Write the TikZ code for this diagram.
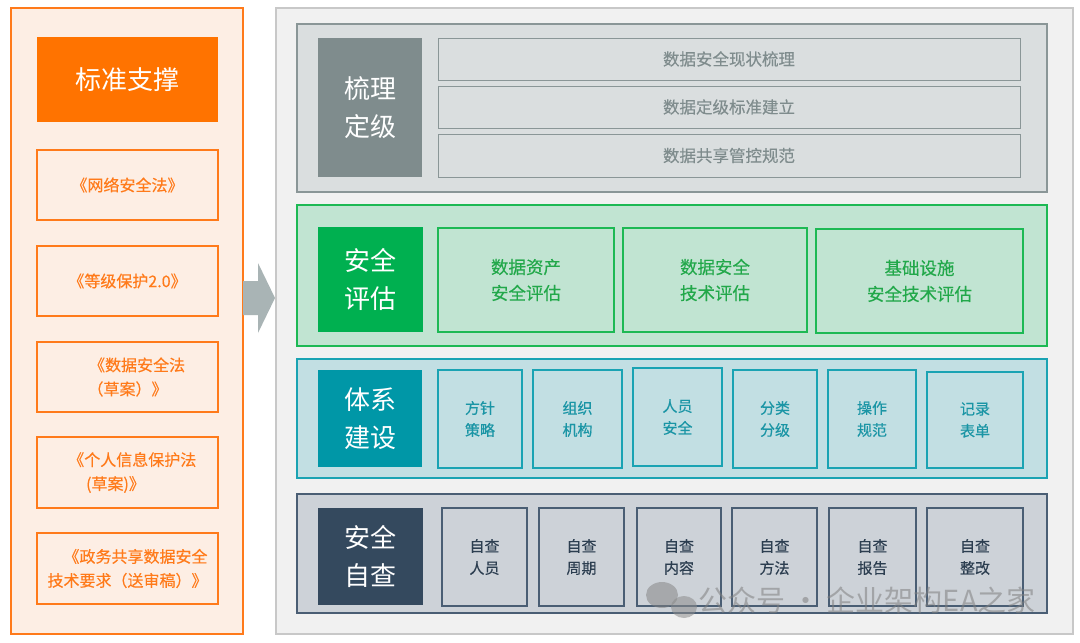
\documentclass[tikz,border=0pt]{standalone}
\usepackage{fontspec}
\setmainfont{Noto Sans CJK SC}
\newfontfamily\medfont[FakeBold=0.35]{Noto Sans CJK SC}
\usetikzlibrary{positioning}
\definecolor{orA}{HTML}{FF7A1A}
\definecolor{orFill}{HTML}{FDEEE4}
\definecolor{orTitle}{HTML}{FF7300}
\definecolor{rpFill}{HTML}{F1F1F1}
\definecolor{rpLine}{HTML}{C8C8C8}
\definecolor{gyFill}{HTML}{DADEDF}
\definecolor{gyLine}{HTML}{8A9697}
\definecolor{gyLab}{HTML}{7F8C8D}
\definecolor{gnFill}{HTML}{C1E4D2}
\definecolor{gnLine}{HTML}{1DB954}
\definecolor{gnLab}{HTML}{00B050}
\definecolor{gnText}{HTML}{22A84A}
\definecolor{tlFill}{HTML}{C2DFE3}
\definecolor{tlLine}{HTML}{1AA3B3}
\definecolor{tlLab}{HTML}{0097A7}
\definecolor{tlText}{HTML}{1A95A5}
\definecolor{nvFill}{HTML}{CDD2D8}
\definecolor{nvLine}{HTML}{4A5E74}
\definecolor{nvLab}{HTML}{34495E}
\definecolor{nvText}{HTML}{2C3E50}
\definecolor{arrGray}{HTML}{A9B4B5}
\tikzset{
  box/.style={rectangle, inner sep=0pt, outer sep=0pt, align=center},
  lawbox/.style={box, draw=orA, line width=1.2pt, fill=orFill, text=orA, font=\medfont\fontsize{16}{24}\selectfont},
  labbox/.style={box, text=white, font=\fontsize{26}{38}\selectfont},
  barbox/.style={box, draw=gyLine, line width=1pt, fill=gyFill, text=gyLab, font=\medfont\fontsize{16.5}{22}\selectfont},
  gnbox/.style={box, draw=gnLine, line width=1.2pt, fill=gnFill, text=gnText, font=\medfont\fontsize{17.5}{26}\selectfont},
  tlbox/.style={box, draw=tlLine, line width=1.2pt, fill=tlFill, text=tlText, font=\medfont\fontsize{15}{22}\selectfont},
  nvbox/.style={box, draw=nvLine, line width=1.2pt, fill=nvFill, text=nvText, font=\medfont\fontsize{15}{22}\selectfont},
}
\newcommand{\rbox}[5]{\node[#1, minimum width=#4-#2, minimum height=#5-#3] at ({(#2+#4)/2},{(#3+#5)/2})}
\begin{document}
\begin{tikzpicture}[x=1pt,y=-1pt]
\useasboundingbox[fill=white] (0,0) rectangle (1080,643);
% left panel
\rbox{box, draw=orA, line width=1.2pt, fill=orFill}{11}{8}{243}{634} (lp) {};
\rbox{box, fill=orTitle, text=white, font=\fontsize{26}{30}\selectfont}{37}{37}{218}{122} (title) {标准支撑};
\rbox{lawbox}{37}{150}{218}{220} (law1) {《网络安全法》};
\rbox{lawbox}{37}{246}{218}{316} (law2) {《等级保护2.0》};
\rbox{lawbox}{37}{342}{218}{412} (law3) {\hspace*{1.2em}《数据安全法\\（草案）》};
\rbox{lawbox}{37}{437}{218}{508} (law4) {\hspace*{0.6em}《个人信息保护法\\(草案)》\hspace*{1.5em}};
\rbox{lawbox}{37}{533}{218}{604} (law5) {\hspace*{1em}《政务共享数据安全\\技术要求（送审稿）》};
% arrow
\fill[arrGray] (243,281) -- (258,281) -- (258,263) -- (275,298) -- (258,333) -- (258,315) -- (243,315) -- cycle;
% right panel
\rbox{box, draw=rpLine, line width=1.2pt, fill=rpFill}{276}{8}{1073}{634} (rp) {};
% row 1
\rbox{box, draw=gyLine, line width=1.2pt, fill=gyFill}{297}{24}{1047}{192} (r1) {};
\rbox{labbox, fill=gyLab}{318}{38}{422}{177} (l1) {梳理\\定级};
\rbox{barbox}{438}{38}{1020}{80} (b11) {数据安全现状梳理};
\rbox{barbox}{438}{86}{1020}{128} (b12) {数据定级标准建立};
\rbox{barbox}{438}{134}{1020}{177} (b13) {数据共享管控规范};
% row 2
\rbox{box, draw=gnLine, line width=1.2pt, fill=gnFill}{297}{205}{1047}{346} (r2) {};
\rbox{labbox, fill=gnLab}{318}{227}{423}{332} (l2) {安全\\评估};
\rbox{gnbox}{438}{228}{614}{332} (b21) {数据资产\\安全评估};
\rbox{gnbox}{623}{228}{807}{332} (b22) {数据安全\\技术评估};
\rbox{gnbox}{816}{229}{1023}{333} (b23) {基础设施\\安全技术评估};
% row 3
\rbox{box, draw=tlLine, line width=1.2pt, fill=tlFill}{297}{359}{1047}{478} (r3) {};
\rbox{labbox, fill=tlLab}{318}{370}{422}{467} (l3) {体系\\建设};
\rbox{tlbox}{438}{370}{522}{468} (b31) {方针\\策略};
\rbox{tlbox}{533}{370}{622}{468} (b32) {组织\\机构};
\rbox{tlbox}{633}{368}{722}{466} (b33) {人员\\安全};
\rbox{tlbox}{733}{370}{817}{468} (b34) {分类\\分级};
\rbox{tlbox}{828}{370}{916}{468} (b35) {操作\\规范};
\rbox{tlbox}{927}{372}{1023}{468} (b36) {记录\\表单};
% row 4
\rbox{box, draw=nvLine, line width=1.2pt, fill=nvFill}{297}{494}{1047}{613} (r4) {};
\rbox{labbox, fill=nvLab}{318}{508}{423}{605} (l4) {安全\\自查};
\rbox{nvbox}{442}{508}{527}{606} (b41) {自查\\人员};
\rbox{nvbox}{539}{508}{624}{606} (b42) {自查\\周期};
\rbox{nvbox}{637}{508}{721}{606} (b43) {自查\\内容};
\rbox{nvbox}{732}{508}{817}{606} (b44) {自查\\方法};
\rbox{nvbox}{829}{508}{916}{606} (b45) {自查\\报告};
\rbox{nvbox}{927}{508}{1023}{606} (b46) {自查\\整改};
% watermark
\fill[gray, opacity=0.5] (662,595) ellipse [x radius=16, y radius=13];
\fill[gray!90, opacity=0.55] (684,607) ellipse [x radius=13, y radius=11];
\node[box, text=gray, opacity=0.55, font=\fontsize{29}{32}\selectfont, anchor=west] (wm) at (698,600) {公众号 · 企业架构EA之家};
\end{tikzpicture}
\end{document}
